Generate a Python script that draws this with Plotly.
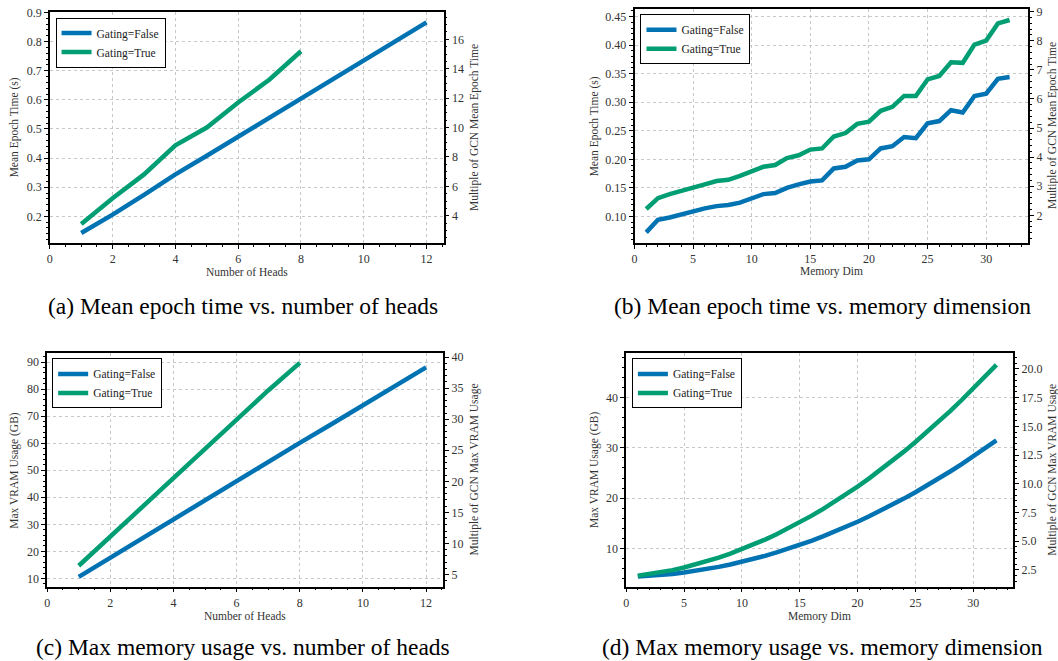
import plotly.graph_objects as go

W, H = 1058, 661

# ---------------- data ----------------
heads_false = [1, 2, 3, 4, 5, 6, 7, 8, 9, 10, 11, 12]
heads_true = [1, 2, 3, 4, 5, 6, 7, 8]
time_heads_false = [0.143, 0.206, 0.274, 0.344, 0.408, 0.474, 0.540, 0.605, 0.670, 0.735, 0.800, 0.866]
time_heads_true = [0.174, 0.262, 0.344, 0.444, 0.505, 0.591, 0.670, 0.767]

mem_dims = list(range(1, 33))
time_mem_false = [0.072, 0.094, 0.098, 0.104, 0.109, 0.114, 0.118, 0.120, 0.124, 0.131,
                  0.139, 0.141, 0.150, 0.156, 0.161, 0.163, 0.184, 0.187, 0.198, 0.200,
                  0.219, 0.223, 0.239, 0.237, 0.263, 0.267, 0.286, 0.282, 0.311, 0.315,
                  0.341, 0.344]
time_mem_true = [0.113, 0.132, 0.139, 0.144, 0.150, 0.156, 0.162, 0.164, 0.171, 0.179,
                 0.187, 0.190, 0.202, 0.207, 0.217, 0.219, 0.240, 0.246, 0.262, 0.266,
                 0.285, 0.292, 0.311, 0.311, 0.340, 0.346, 0.370, 0.369, 0.401, 0.408,
                 0.438, 0.444]

vram_heads_false = [10.6, 17.7, 24.9, 32.0, 39.0, 46.0, 53.0, 60.1, 67.0, 74.0, 81.0, 88.0]
vram_heads_true = [14.7, 25.5, 36.5, 47.5, 58.4, 69.2, 79.5, 89.7]

vram_mem_false = [4.38, 4.50, 4.68, 4.90, 5.18, 5.50, 5.88, 6.30, 6.78, 7.30,
                   7.88, 8.50, 9.18, 9.90, 10.68, 11.50, 12.38, 13.30, 14.28, 15.30,
                   16.38, 17.50, 18.68, 19.90, 21.18, 22.50, 23.88, 25.30, 26.78, 28.30,
                   29.88, 31.50]
vram_mem_true = [4.54, 4.84, 5.22, 5.66, 6.18, 6.76, 7.42, 8.14, 8.94, 9.80,
                 10.74, 11.74, 12.82, 13.96, 15.18, 16.46, 17.82, 19.24, 20.74, 22.30,
                 23.94, 25.64, 27.42, 29.26, 31.18, 33.16, 35.22, 37.34, 39.54, 41.80,
                 44.14, 46.54]

# GCN baselines used for the right-hand "multiple" axes
gcn_time_heads = 0.0505
gcn_time_mem = 0.05096
gcn_vram_heads = 2.295
gcn_vram_mem = 2.286

series_labels = ["Gating=False", "Gating=True"]
colors = ["#0173B2", "#029E73"]
captions = ["(a) Mean epoch time vs. number of heads",
            "(b) Mean epoch time vs. memory dimension",
            "(c) Max memory usage vs. number of heads",
            "(d) Max memory usage vs. memory dimension"]

# ---------------- layout geometry (pixels) ----------------
panels = [
    dict(x=(47, 442), y=(6, 239), xr=[0, 12.55], yr=[0.109, 0.902], base=gcn_time_heads,
         xs=[heads_false, heads_true], ys=[time_heads_false, time_heads_true],
         xt="Number of Heads", yt="Mean Epoch Time (s)", y2t="Multiple of GCN Mean Epoch Time",
         xd=2, xm=0.5, yd=0.1, ym=0.02, y2d=2, y2m=0.5, yfmt=".1f", y2fmt="d",
         leg=(52.7, 11.7), cap=(241, 303), xtp=268, ytx=11, y2tx=473),
    dict(x=(633.3, 1028.3), y=(3.3, 239), xr=[0, 33.6], yr=[0.0537, 0.4628], base=gcn_time_mem,
         xs=[mem_dims, mem_dims], ys=[time_mem_false, time_mem_true],
         xt="Memory Dim", yt="Mean Epoch Time (s)", y2t="Multiple of GCN Mean Epoch Time",
         xd=5, xm=1, yd=0.05, ym=0.01, y2d=1, y2m=0.2, yfmt=".2f", y2fmt="d",
         leg=(639.3, 8.3), cap=(822, 303), xtp=268, ytx=593, y2tx=1052),
    dict(x=(44.3, 441.7), y=(350, 586), xr=[0, 12.55], yr=[6.96, 93.4], base=gcn_vram_heads,
         xs=[heads_false, heads_true], ys=[vram_heads_false, vram_heads_true],
         xt="Number of Heads", yt="Max VRAM Usage (GB)", y2t="Multiple of GCN Max VRAM Usage",
         xd=2, xm=0.5, yd=10, ym=2, y2d=5, y2m=1, yfmt="d", y2fmt="d",
         leg=(49.3, 355.7), cap=(241, 647), xtp=616, ytx=12, y2tx=473),
    dict(x=(625, 1013.3), y=(350, 586), xr=[0, 33.47], yr=[2.36, 48.94], base=gcn_vram_mem,
         xs=[mem_dims, mem_dims], ys=[vram_mem_false, vram_mem_true],
         xt="Memory Dim", yt="Max VRAM Usage (GB)", y2t="Multiple of GCN Max VRAM Usage",
         xd=5, xm=1, yd=10, ym=2, y2d=2.5, y2m=0.5, yfmt="d", y2fmt=".1f",
         leg=(630.7, 355.7), cap=(822, 647), xtp=616, ytx=593, y2tx=1053),
]

FONT = "Liberation Serif"
TICKFONT = dict(family=FONT, size=12, color="#333333")
TITLEFONT = dict(family=FONT, size=11.5, color="#333333")

fig = go.Figure()
layout = dict(width=W, height=H, margin=dict(l=0, r=0, t=0, b=0),
              paper_bgcolor="white", plot_bgcolor="white", showlegend=True,
              annotations=[])

def px(v):
    return v / W

def py(v):
    return 1 - v / H

for i, p in enumerate(panels):
    n = i + 1
    xa = "x" if n == 1 else f"x{n}"
    ya = "y" if n == 1 else f"y{n}"
    y2n = n + 4
    ya2 = f"y{y2n}"
    legname = "legend" if n == 1 else f"legend{n}"

    for k in range(2):
        fig.add_trace(go.Scatter(x=p["xs"][k], y=p["ys"][k], mode="lines",
                                 name=series_labels[k],
                                 line=dict(color=colors[k], width=4.5),
                                 xaxis=xa, yaxis=ya, legend=legname))
    # invisible trace anchoring the "multiple of GCN" axis
    fig.add_trace(go.Scatter(x=p["xs"][0], y=[v / p["base"] for v in p["ys"][0]],
                             mode="lines", line=dict(color="rgba(0,0,0,0)", width=0),
                             showlegend=False, hoverinfo="skip",
                             xaxis=xa, yaxis=ya2))

    xdom = [px(p["x"][0]), px(p["x"][1])]
    ydom = [py(p["y"][1]), py(p["y"][0])]
    xkey = "xaxis" if n == 1 else f"xaxis{n}"
    ykey = "yaxis" if n == 1 else f"yaxis{n}"
    y2key = f"yaxis{y2n}"

    layout[xkey] = dict(domain=xdom, range=p["xr"], anchor=ya, dtick=p["xd"], tick0=0,
                        showline=True, linecolor="black", linewidth=1.5, mirror=True,
                        ticks="outside", ticklen=4, tickwidth=1, tickcolor="black",
                        tickfont=TICKFONT, showgrid=True, gridcolor="#c8c8c8",
                        griddash="dot", gridwidth=1, zeroline=False,
                        minor=dict(dtick=p["xm"], tick0=0, ticks="outside", ticklen=2,
                                   tickcolor="black", showgrid=False))
    layout[ykey] = dict(domain=ydom, range=p["yr"], anchor=xa, dtick=p["yd"], tick0=0,
                        tickformat=p["yfmt"],
                        showline=True, linecolor="black", linewidth=1.5, mirror=False,
                        ticks="outside", ticklen=4, tickwidth=1, tickcolor="black",
                        tickfont=TICKFONT, showgrid=True, gridcolor="#c8c8c8",
                        griddash="dot", gridwidth=1, zeroline=False,
                        minor=dict(dtick=p["ym"], tick0=0, ticks="outside", ticklen=2,
                                   tickcolor="black", showgrid=False))
    r2 = [p["yr"][0] / p["base"], p["yr"][1] / p["base"]]
    layout[y2key] = dict(domain=ydom, range=r2, overlaying=ya, anchor=xa, side="right",
                         dtick=p["y2d"], tick0=0, tickformat=p["y2fmt"],
                         showline=True, linecolor="black", linewidth=1.5,
                         ticks="outside", ticklen=4, tickwidth=1, tickcolor="black",
                         tickfont=TICKFONT, showgrid=False, zeroline=False,
                         minor=dict(dtick=p["y2m"], tick0=0, ticks="outside", ticklen=2,
                                    tickcolor="black", showgrid=False))

    layout[legname] = dict(x=px(p["leg"][0]), y=py(p["leg"][1]), xanchor="left",
                           yanchor="top", bgcolor="white", bordercolor="black",
                           borderwidth=1, font=dict(family=FONT, size=11.5, color="#222222"),
                           tracegroupgap=0, itemwidth=30)

    cx = (p["x"][0] + p["x"][1]) / 2
    layout["annotations"] += [
        dict(text=p["xt"], x=px(cx), y=py(p["xtp"]), xref="paper", yref="paper",
             showarrow=False, font=TITLEFONT, xanchor="center", yanchor="middle"),
        dict(text=p["yt"], x=px(p["ytx"]), y=py((p["y"][0] + p["y"][1]) / 2),
             xref="paper", yref="paper", showarrow=False, font=TITLEFONT, textangle=-90,
             xanchor="center", yanchor="middle"),
        dict(text=p["y2t"], x=px(p["y2tx"]), y=py((p["y"][0] + p["y"][1]) / 2),
             xref="paper", yref="paper", showarrow=False, font=TITLEFONT, textangle=-90,
             xanchor="center", yanchor="middle"),
        dict(text=captions[i], x=px(p["cap"][0]), y=py(p["cap"][1]), xref="paper",
             yref="paper", showarrow=False,
             font=dict(family=FONT, size=23.5, color="black"),
             xanchor="center", yanchor="middle"),
    ]

fig.update_layout(**layout)
fig.write_html("out.html")
